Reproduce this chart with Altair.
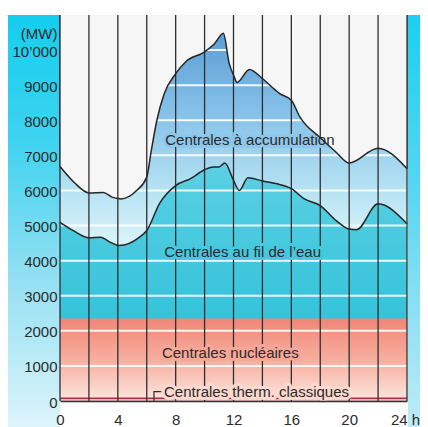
import altair as alt
import pandas as pd

# ---- data ----
hours_total = [0, 1, 2, 3, 3.6, 4, 4.2, 5.3, 6, 6.3, 6.7, 7.2, 8, 8.7, 10, 10.7, 11.3, 11.7,
               12, 12.25, 13.1, 14, 14.9, 15.2, 16, 16.6, 18, 19.1, 20, 22, 24]
total_mw = [6680, 6220, 5930, 5940, 5810, 5770, 5760, 6000, 6380, 7100, 8000, 8750, 9330,
            9670, 9950, 10190, 10480, 9620, 9290, 9080, 9450, 9190, 8860, 8760, 8570, 8090,
            7500, 7090, 6780, 7200, 6620]

hours_river = [0, 0.9, 2, 2.8, 3.5, 4.1, 5.5, 6, 6.9, 8, 9, 10, 10.6, 11, 11.4, 12, 12.4,
               13, 14, 15, 16, 16.9, 18, 19.1, 20, 20.5, 22, 24]
river_mw = [5090, 4860, 4650, 4670, 4520, 4430, 4670, 4860, 5640, 6140, 6330, 6590, 6670,
            6670, 6780, 6290, 6000, 6360, 6270, 6190, 6050, 5760, 5570, 5140, 4900, 4880,
            5620, 5050]

nuclear_mw = 2350
thermal_mw = 80

x_ticks = [0, 4, 8, 12, 16, 20, 24]
y_ticks = list(range(0, 10001, 1000))
hour_lines = list(range(0, 25, 2))

label_text = ["Centrales à accumulation", "Centrales au fil de l’eau",
              "Centrales nucléaires", "Centrales therm. classiques"]
label_h = [13.13, 12.63, 11.78, 13.59]
label_mw = [7440, 4257, 1370, 266]
label_halo = ["#8ec7ea", "#44c9de", "#f6a898", "#fcd8cf"]

bracket_h = [6.5, 6.5, 7.0]
bracket_mw = [0, 266, 266]
bracket_order = [0, 1, 2]

FONT = "Liberation Sans"
TXT = "#2b2b2b"
PAPER = "#f6f6f6"
W, H = 347, 386
TOP = 11000

xs = alt.Scale(domain=[0, 24], nice=False, zero=False)
ys = alt.Scale(domain=[0, TOP], nice=False)

df_total = pd.DataFrame({"h": hours_total, "v": total_mw, "b": 0, "top": TOP})
df_river = pd.DataFrame({"h": hours_river, "v": river_mw, "b": 0})
df_nuc = pd.DataFrame({"h": [0, 24], "v": [nuclear_mw] * 2, "b": [0, 0]})
df_th = pd.DataFrame({"h": [0, 24], "v": [thermal_mw] * 2, "b": [0, 0]})
df_grid = pd.DataFrame({"v": y_ticks[1:], "h": 0, "h1": 24})
df_vlines = pd.DataFrame({"h": hour_lines, "v": 0, "hi": TOP})
df_labels = pd.DataFrame({"t": label_text, "h": label_h, "v": label_mw, "halo": label_halo})
df_bracket = pd.DataFrame({"h": bracket_h, "v": bracket_mw, "o": bracket_order})

x_axis = alt.Axis(values=x_ticks, format="d",
                  labelExpr="datum.value == 24 ? '24 h' : datum.label",
                  labelFont=FONT, labelFontSize=15, labelColor=TXT, labelPadding=23,
                  labelBaseline="alphabetic",
                  labelFlush=False, labelOverlap=False,
                  labelOffset={"condition": {"test": "datum.value == 24", "value": -2}, "value": 0},
                  ticks=False, domain=True, domainColor="#333333", domainWidth=1.5,
                  grid=False, title="", zindex=1)
y_axis = alt.Axis(values=y_ticks, format="d",
                  labelExpr="datum.value == 10000 ? '10’000' : datum.label",
                  labelFont=FONT, labelFontSize=15, labelColor=TXT, labelPadding=3,
                  labelFlush=False, labelOverlap=False, labelOffset=1,
                  ticks=False, domain=False, grid=False,
                  title="(MW)", titleAngle=0, titleAlign="right", titleBaseline="alphabetic",
                  titleX=-3, titleY=23, titleFont=FONT, titleFontSize=15,
                  titleFontWeight="normal", titleColor=TXT, zindex=1)

X = alt.X("h:Q", scale=xs, axis=x_axis)
Y = alt.Y("v:Q", scale=ys, axis=y_axis)


def grad(stops):
    return alt.Gradient(gradient="linear", x1=0, x2=0, y1=0, y2=1,
                        stops=[alt.GradientStop(color=c, offset=o) for o, c in stops])


strip_left = alt.Chart(df_nuc).mark_rect(
    fill=grad([(0, "#14cdef"), (0.3, "#3fd3f0"), (0.6, "#8fdff2"), (1, "#e4f6fb")])
).transform_filter("datum.h == 0").encode(
    x=alt.value(-53), x2=alt.value(0), y=alt.value(0), y2=alt.value(H + 40))

strip_right = alt.Chart(df_nuc).mark_rect(
    fill=grad([(0, "#1ccff0"), (0.4, "#55d6f1"), (1, "#c6ecf7")])
).transform_filter("datum.h == 0").encode(
    x=alt.value(W + 1), x2=alt.value(W + 30), y=alt.value(0), y2=alt.value(H + 40))

acc_area = alt.Chart(df_total).mark_area(
    interpolate="monotone",
    fill=grad([(0, "#5d9ed4"), (0.2, "#82bfe7"), (0.42, "#b4e2f3"),
               (0.56, "#d8f2f9"), (1, "#e0f5fa")])
).encode(x=X, y=Y, y2="b:Q")

river_area = alt.Chart(df_river).mark_area(
    interpolate="monotone",
    fill=grad([(0, "#5ccfe3"), (0.35, "#46c9de"), (0.65, "#36c3da"), (1, "#36c3da")])
).encode(x=X, y=Y, y2="b:Q")

nuc_area = alt.Chart(df_nuc).mark_area(
    fill=grad([(0, "#f08676"), (0.5, "#f7ae9f"), (1, "#fde6df")])
).encode(x=X, y=Y, y2="b:Q")

th_area = alt.Chart(df_th).mark_area(fill="#f0b4b4").encode(x=X, y=Y, y2="b:Q")

th_line = alt.Chart(df_th).mark_line(stroke="#b0304a", strokeWidth=1.4).encode(x=X, y=Y)

grid = alt.Chart(df_grid).mark_rule(stroke="white", strokeWidth=2, opacity=0.9).encode(
    x=X, x2="h1:Q", y=Y)

vlines = alt.Chart(df_vlines).mark_rule(stroke="#2e2e2e", strokeWidth=1.3).encode(
    x=X, y=Y, y2="hi:Q")

halo = alt.Chart(df_labels).mark_text(
    font=FONT, fontSize=15, align="center", baseline="middle", strokeWidth=6,
    strokeJoin="round").encode(
    x=X, y=Y, text="t:N",
    stroke=alt.Stroke("halo:N", scale=None), fill=alt.Fill("halo:N", scale=None))

# paper above the total curve (keeps gridlines and label halo inside the areas)
cover = alt.Chart(df_total).mark_area(interpolate="monotone", fill=PAPER).encode(
    x=X, y=Y, y2="top:Q")

vlines_top = alt.Chart(df_total).mark_rule(stroke="#2e2e2e", strokeWidth=1.3).transform_filter(
    "datum.h % 2 == 0").encode(x=X, y=Y, y2="top:Q")

total_line = alt.Chart(df_total).mark_line(
    interpolate="monotone", stroke="#262626", strokeWidth=1.5).encode(x=X, y=Y)

river_line = alt.Chart(df_river).mark_line(
    interpolate="monotone", stroke="#262626", strokeWidth=1.5).encode(x=X, y=Y)

texts = alt.Chart(df_labels).mark_text(
    font=FONT, fontSize=15, align="center", baseline="middle", fill=TXT).encode(
    x=X, y=Y, text="t:N")

bracket = alt.Chart(df_bracket).mark_line(stroke=TXT, strokeWidth=1.2).encode(
    x=X, y=Y, order="o:Q")

chart = alt.layer(
    acc_area, strip_left, strip_right, river_area, nuc_area, th_area, grid, th_line,
    vlines, halo, cover, vlines_top, total_line, river_line, texts, bracket
).properties(
    width=W, height=H,
    autosize=alt.AutoSizeParams(type="none"),
    padding={"left": 52, "top": 7, "right": 13, "bottom": 26},
    background="white",
).configure_view(fill=PAPER, strokeWidth=0)

chart.save("out.html", embed_options={"renderer": "svg", "actions": False})
